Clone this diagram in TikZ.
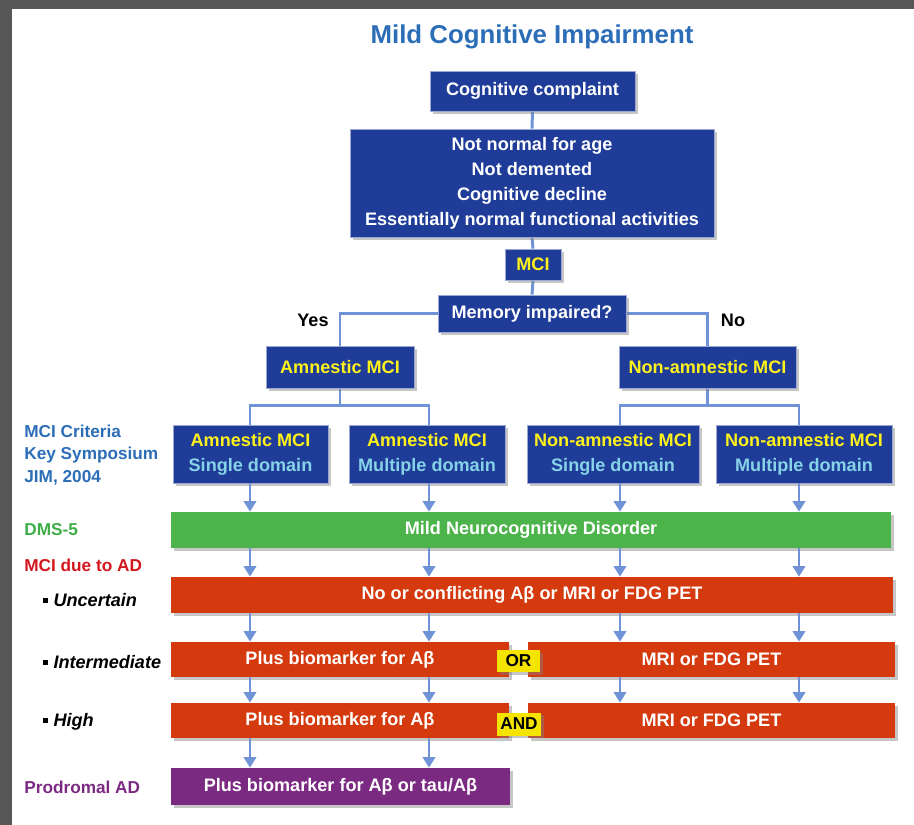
\documentclass[tikz,border=0pt]{standalone}
\usepackage{fontspec}
\setmainfont{Liberation Sans}
\usepackage{xcolor}
\usetikzlibrary{arrows.meta,shadows,backgrounds}

\definecolor{navy}{HTML}{1F3C98}
\definecolor{linkblue}{HTML}{6F93D6}
\definecolor{titleblue}{HTML}{2C6DB8}
\definecolor{barred}{HTML}{D43A0E}
\definecolor{bargreen}{HTML}{4DB34B}
\definecolor{barpurple}{HTML}{7B2A82}
\definecolor{tagyellow}{HTML}{F5E400}
\definecolor{mciyellow}{HTML}{FFF21A}
\definecolor{domaincyan}{HTML}{86D3E8}
\definecolor{labelred}{HTML}{D2181E}
\definecolor{labelgreen}{HTML}{3FAE49}
\definecolor{framegray}{HTML}{575757}

\newcommand\boxfont{\fontsize{10.3}{14.2}\selectfont\bfseries}
\newcommand\sidefont{\fontsize{9.8}{13}\selectfont\bfseries}
\newcommand\sqbullet{\rule[2.2pt]{2.8pt}{2.8pt}\hspace{3pt}}

\tikzset{
	wh/.style 2 args={minimum width=#1*0.02cm, minimum height=#2*0.02cm},
	box/.style={draw=navy!45!white, line width=0.4pt, fill=navy, text=white, font=\boxfont,
		inner sep=0pt, align=center,
		drop shadow={shadow xshift=1.6pt, shadow yshift=-1.6pt, opacity=.45}},
	bar/.style={box, draw=none},
	tag/.style={bar, fill=tagyellow, text=black, font=\fontsize{9.8}{12}\selectfont\bfseries},
	side/.style={anchor=west, font=\sidefont, align=left, inner sep=0pt},
	link/.style={draw=linkblue, line width=1.7pt},
	arr/.style={link, -{Triangle[width=7pt,length=6pt]}}
}

\begin{document}
\begin{tikzpicture}[x=0.02cm, y=-0.02cm]
	\useasboundingbox (0,0) rectangle (914,825);
	\fill[framegray] (0,0) rectangle (914,9);
	\fill[framegray] (0,0) rectangle (12,825);

	\node[text=titleblue, font=\fontsize{14.7}{17}\selectfont\bfseries] (title) at (532,37) {Mild Cognitive Impairment};

	% upper tree
	\node[box, wh={205}{40}] (complaint) at (532.5,91) {Cognitive complaint};
	\node[box, wh={364}{108}] (crit) at (532,183) {Not normal for age\\Not demented\\Cognitive decline\\Essentially normal functional activities};
	\node[box, wh={56}{31}, text=mciyellow] (mci) at (533,264.5) {MCI};
	\node[box, wh={188}{37}] (mem) at (532,313.5) {Memory impaired?};
	\node[box, wh={148}{42}, text=mciyellow] (amn) at (340,367) {Amnestic MCI};
	\node[box, wh={177}{42}, text=mciyellow] (non) at (707.5,367) {Non-amnestic MCI};
	\node[font=\boxfont] (yes) at (313,320) {Yes};
	\node[font=\boxfont] (no) at (733,320) {No};

	\node[box, wh={155}{58}] (a1) at (250.5,454) {\textcolor{mciyellow}{Amnestic MCI}\\\textcolor{domaincyan}{Single domain}};
	\node[box, wh={156}{58}] (a2) at (427,454) {\textcolor{mciyellow}{Amnestic MCI}\\\textcolor{domaincyan}{Multiple domain}};
	\node[box, wh={172}{58}] (n1) at (613,454) {\textcolor{mciyellow}{Non-amnestic MCI}\\\textcolor{domaincyan}{Single domain}};
	\node[box, wh={176}{58}] (n2) at (804,454) {\textcolor{mciyellow}{Non-amnestic MCI}\\\textcolor{domaincyan}{Multiple domain}};

	% bars
	\node[bar, wh={720}{36}, fill=bargreen] (dsm) at (531,530) {Mild Neurocognitive Disorder};
	\node[bar, wh={722}{36}, fill=barred] (unc) at (532,595) {No or conflicting Aβ or MRI or FDG PET};
	\node[bar, wh={338}{35}, fill=barred] (intl) at (340,659.5) {Plus biomarker for Aβ};
	\node[bar, wh={367}{35}, fill=barred] (intr) at (711.5,659.5) {MRI or FDG PET};
	\node[bar, wh={338}{35}, fill=barred] (highl) at (340,720.5) {Plus biomarker for Aβ};
	\node[bar, wh={367}{35}, fill=barred] (highr) at (711.5,720.5) {MRI or FDG PET};
	\node[tag, wh={43}{22}] (or) at (518.5,661) {OR};
	\node[tag, wh={44}{23}] (and) at (519,724) {AND};
	\node[bar, wh={339}{37}, fill=barpurple] (prod) at (340.5,786.5) {Plus biomarker for Aβ or tau/Aβ};

	% side labels
	\node[side, text=titleblue] (jim) at (24,455) {MCI Criteria\\Key Symposium\\JIM, 2004};
	\node[side, text=labelgreen] (dsmlbl) at (24,530) {DMS-5};
	\node[side, text=labelred] (adlbl) at (24,565) {MCI due to AD};
	\node[side, font=\boxfont\itshape] (unclbl) at (43,600) {\sqbullet Uncertain};
	\node[side, font=\boxfont\itshape] (intlbl) at (43,662) {\sqbullet Intermediate};
	\node[side, font=\boxfont\itshape] (highlbl) at (43,722) {\sqbullet High};
	\node[side, text=barpurple] (prodlbl) at (24,787) {Prodromal AD};

	\coordinate (k1) at (250,0);
	\coordinate (k2) at (429,0);
	\coordinate (k3) at (620,0);
	\coordinate (k4) at (799,0);

	\begin{scope}[on background layer]
		\draw[link] (complaint.south) -- (crit.north);
		\draw[link] (crit.south) -- (mci.north);
		\draw[link] (mci.south) -- (mem.north);
		\draw[link] (mem.west) -| (amn.north);
		\draw[link] (mem.east) -| (non.north);
		\draw[link] (amn.south) -- ++(0,17) coordinate (asplit);
		\draw[link] (k1 |- a1.north) |- (asplit) -| (k2 |- a2.north);
		\draw[link] (non.south) -- ++(0,17) coordinate (nsplit);
		\draw[link] (k3 |- n1.north) |- (nsplit) -| (k4 |- n2.north);
	\end{scope}

	\foreach \b/\k in {a1/k1, a2/k2, n1/k3, n2/k4}
		\draw[arr] (\k |- \b.south) -- (\k |- dsm.north);
	\foreach \k/\i/\h in {k1/intl/highl, k2/intl/highl, k3/intr/highr, k4/intr/highr} {
		\draw[arr] (\k |- dsm.south) -- (\k |- unc.north);
		\draw[arr] (\k |- unc.south) -- (\k |- \i.north);
		\draw[arr] (\k |- \i.south) -- (\k |- \h.north);
	}
	\foreach \k in {k1, k2}
		\draw[arr] (\k |- highl.south) -- (\k |- prod.north);
\end{tikzpicture}
\end{document}
